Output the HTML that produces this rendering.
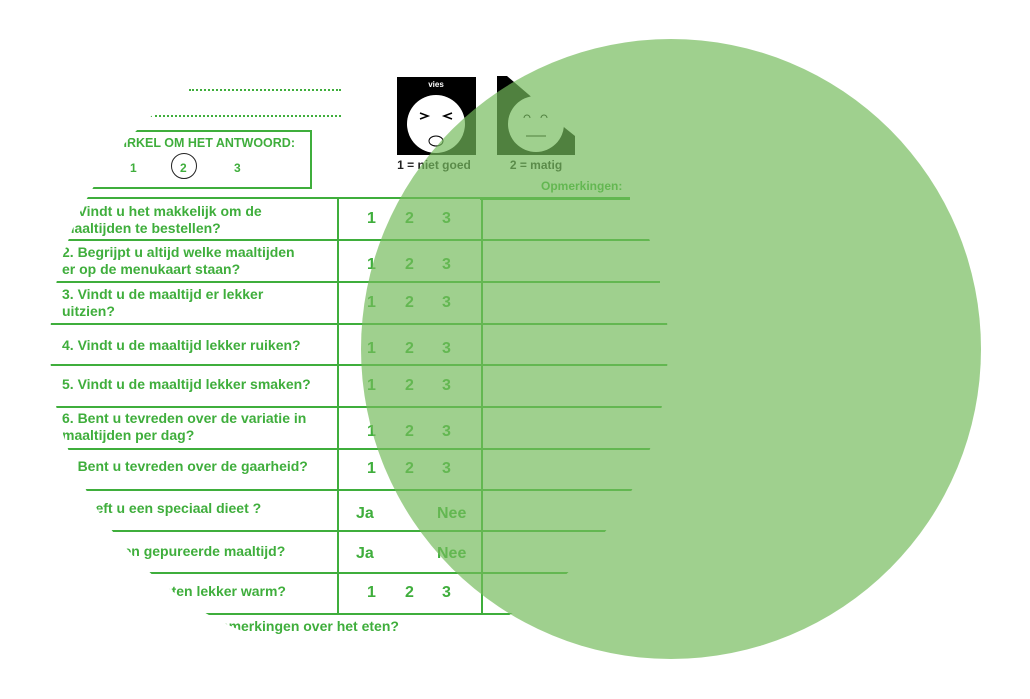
<!DOCTYPE html>
<html><head><meta charset="utf-8"><style>
html,body{margin:0;padding:0;background:#fff;}
#w{position:relative;width:1030px;height:699px;overflow:hidden;font-family:"Liberation Sans",sans-serif;font-weight:bold;}
#clip{position:absolute;left:0;top:0;width:1030px;height:699px;clip-path:circle(309px at 359px 345px);color:#3fae3c;}
.t{position:absolute;font-size:14px;line-height:17px;white-space:nowrap;}
.h{position:absolute;height:2px;background:#3fae3c;}
.v{position:absolute;width:2px;background:#3fae3c;}
.n{position:absolute;font-size:16px;}
#g{position:absolute;left:361px;top:39px;width:620px;height:620px;border-radius:50%;background:rgba(116,187,92,0.69);}
</style></head><body><div id="w">
<div id="clip">
<div style="position:absolute;left:189px;top:89px;width:152px;border-top:2px dotted #3fae3c"></div>
<div style="position:absolute;left:150px;top:115px;width:191px;border-top:2px dotted #3fae3c"></div>
<div style="position:absolute;left:40px;top:130px;width:270px;height:55px;border:2px solid #3fae3c;border-left:none"></div>
<div class="t" style="left:0;width:295px;text-align:right;top:135px;font-size:12.5px">1. CIRKEL OM HET ANTWOORD:</div>
<div class="t" style="left:130px;top:160px;font-size:12px">1</div>
<div class="t" style="left:180px;top:160px;font-size:12px">2</div>
<div style="position:absolute;left:171px;top:153px;width:24px;height:24px;border:1.5px solid #222;border-radius:50%"></div>
<div class="t" style="left:234px;top:160px;font-size:12px">3</div>

<div class="h" style="left:40px;top:197px;width:590px"></div>
<div class="h" style="left:40px;top:239px;width:610px"></div>
<div class="h" style="left:40px;top:281px;width:620px"></div>
<div class="h" style="left:40px;top:323px;width:630px"></div>
<div class="h" style="left:40px;top:364px;width:630px"></div>
<div class="h" style="left:40px;top:406px;width:630px"></div>
<div class="h" style="left:40px;top:448px;width:630px"></div>
<div class="h" style="left:40px;top:489px;width:630px"></div>
<div class="h" style="left:40px;top:530px;width:630px"></div>
<div class="h" style="left:40px;top:572px;width:630px"></div>
<div class="h" style="left:40px;top:613px;width:630px"></div>
<div class="v" style="left:337px;top:197px;height:418px"></div>
<div class="v" style="left:481px;top:197px;height:418px"></div>

<div class="t" style="left:62px;top:203px">1. Vindt u het makkelijk om de<br>maaltijden te bestellen?</div>
<div class="t" style="left:62px;top:244px">2. Begrijpt u altijd welke maaltijden<br>er op de menukaart staan?</div>
<div class="t" style="left:62px;top:286px">3. Vindt u de maaltijd er lekker<br>uitzien?</div>
<div class="t" style="left:62px;top:337px">4. Vindt u de maaltijd lekker ruiken?</div>
<div class="t" style="left:62px;top:376px">5. Vindt u de maaltijd lekker smaken?</div>
<div class="t" style="left:62px;top:410px">6. Bent u tevreden over de variatie in<br>maaltijden per dag?</div>
<div class="t" style="left:62px;top:458px">7. Bent u tevreden over de gaarheid?</div>
<div class="t" style="left:62px;top:500px">8. Heeft u een speciaal dieet ?</div>
<div class="t" style="left:62px;top:543px">9. Eet u een gepureerde maaltijd?</div>
<div class="t" style="left:100px;top:583px">10. Is het eten lekker warm?</div>
<div class="t" style="left:108px;top:618px">11. Heeft u nog opmerkingen over het eten?</div>

<div class="n" style="left:367px;top:210px">1</div><div class="n" style="left:405px;top:210px">2</div><div class="n" style="left:442px;top:210px">3</div>
<div class="n" style="left:367px;top:256px">1</div><div class="n" style="left:405px;top:256px">2</div><div class="n" style="left:442px;top:256px">3</div>
<div class="n" style="left:367px;top:294px">1</div><div class="n" style="left:405px;top:294px">2</div><div class="n" style="left:442px;top:294px">3</div>
<div class="n" style="left:367px;top:340px">1</div><div class="n" style="left:405px;top:340px">2</div><div class="n" style="left:442px;top:340px">3</div>
<div class="n" style="left:367px;top:377px">1</div><div class="n" style="left:405px;top:377px">2</div><div class="n" style="left:442px;top:377px">3</div>
<div class="n" style="left:367px;top:423px">1</div><div class="n" style="left:405px;top:423px">2</div><div class="n" style="left:442px;top:423px">3</div>
<div class="n" style="left:367px;top:460px">1</div><div class="n" style="left:405px;top:460px">2</div><div class="n" style="left:442px;top:460px">3</div>
<div class="n" style="left:356px;top:505px">Ja</div><div class="n" style="left:437px;top:505px">Nee</div>
<div class="n" style="left:356px;top:545px">Ja</div><div class="n" style="left:437px;top:545px">Nee</div>
<div class="n" style="left:367px;top:584px">1</div><div class="n" style="left:405px;top:584px">2</div><div class="n" style="left:442px;top:584px">3</div>
</div>

<svg style="position:absolute;left:0;top:0" width="1030" height="699">
<rect x="397" y="77" width="79" height="78" fill="#000"/>
<circle cx="436" cy="124" r="29" fill="#fff"/>
<text x="436" y="87" font-size="8" fill="#fff" text-anchor="middle" font-family="Liberation Sans">vies</text>
<path d="M420 113 l8 3 -8 3 M452 113 l-8 3 8 3" stroke="#000" stroke-width="1.5" fill="none"/>
<ellipse cx="436" cy="141" rx="7" ry="5" fill="#fff" stroke="#000"/>
<polygon points="497,76 507,76 535,100 565,128 575,136 575,155 497,155" fill="#000"/>
<circle cx="536" cy="124" r="28" fill="#fff"/>
<path d="M524 118 a3 3 0 0 1 6 0 M541 118 a3 3 0 0 1 6 0 M526 136 h20" stroke="#000" fill="none"/>
<text x="434" y="169" font-size="12" font-weight="bold" fill="#222" text-anchor="middle" font-family="Liberation Sans">1 = niet goed</text>
<text x="536" y="169" font-size="12" font-weight="bold" fill="#222" text-anchor="middle" font-family="Liberation Sans">2 = matig</text>
<text x="541" y="190" font-size="12" font-weight="bold" fill="#3fae3c" font-family="Liberation Sans">Opmerkingen:</text>
<line x1="480" y1="199" x2="630" y2="199" stroke="#3fae3c" stroke-width="2"/>
</svg>
<div id="g"></div>
</div></body></html>
